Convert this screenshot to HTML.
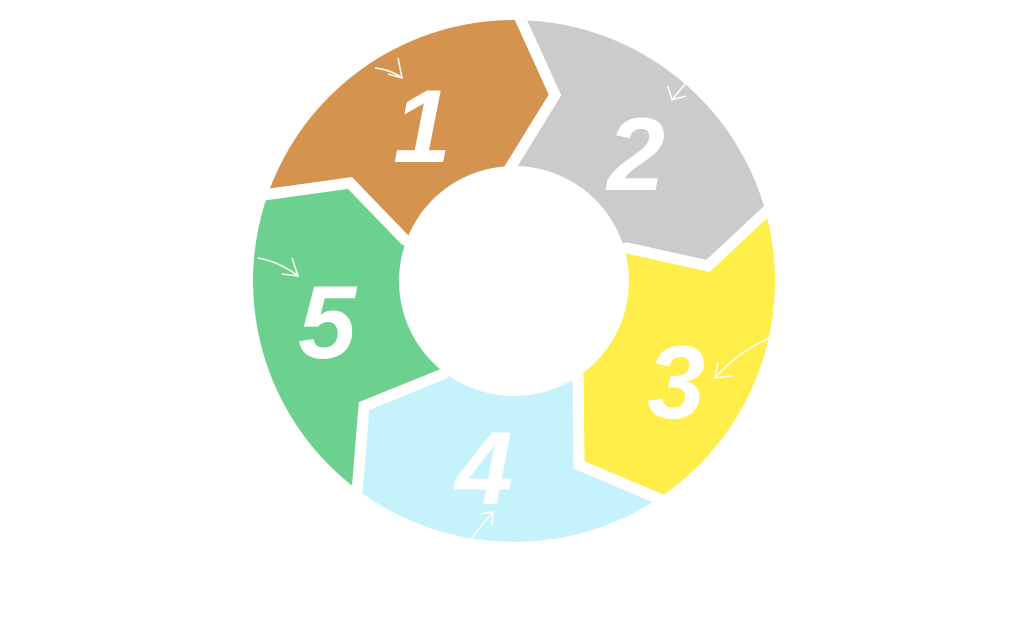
<!DOCTYPE html>
<html><head><meta charset="utf-8"><style>
html,body{margin:0;padding:0;background:#fff;width:1024px;height:625px;overflow:hidden}
svg{display:block}
text{font-family:"Liberation Sans",sans-serif;font-weight:bold;font-style:italic;font-size:104px;fill:#fff;text-anchor:middle}
</style></head><body>
<svg width="1024" height="625" viewBox="0 0 1024 625">
<defs><clipPath id="c"><circle cx="514" cy="281" r="261"/></clipPath></defs>
<g clip-path="url(#c)" stroke="#fff" stroke-width="11" stroke-linejoin="miter">
<polygon fill="#D4934F" points="514,281 405,240 350,183 264,195 214,178 150,0 521,0 520,18 555,95 510,168"/>
<polygon fill="#CBCBCB" points="514,281 510,168 555,95 520,18 521,0 900,0 821,193 770,208 708,266 627,248"/>
<polygon fill="#FFEE4A" points="514,281 627,248 708,266 770,208 821,193 900,600 692,544 662,500 579,465 578,376"/>
<polygon fill="#C6F2FC" points="514,281 578,376 579,465 662,500 692,544 514,600 325,535 357,492 364,406 443,374"/>
<polygon fill="#6CD18F" points="514,281 443,374 364,406 357,492 325,535 100,400 214,178 264,195 350,183 405,240"/>
</g>
<circle cx="514" cy="281" r="115" fill="#fff"/>
<g fill="none" stroke="#fff" stroke-width="1.5">
<path d="M375,68 Q392,70 402,78 M398,58 L402,78 L388,74"/>
<path d="M690,78 Q680,90 672,100 M668,86 L672,100 L686,96"/>
<path d="M770,338 Q740,350 715,378 M718,362 L715,378 L732,376"/>
<path d="M470,540 Q482,525 493,512 M480,514 L493,512 L492,526"/>
<path d="M258,258 Q280,262 298,276 M292,258 L298,276 L282,274"/>
</g>
<text x="422" y="162">1</text>
<text x="636" y="190">2</text>
<text x="676" y="418">3</text>
<text x="484" y="504">4</text>
<text x="327" y="358">5</text>
</svg>
</body></html>
